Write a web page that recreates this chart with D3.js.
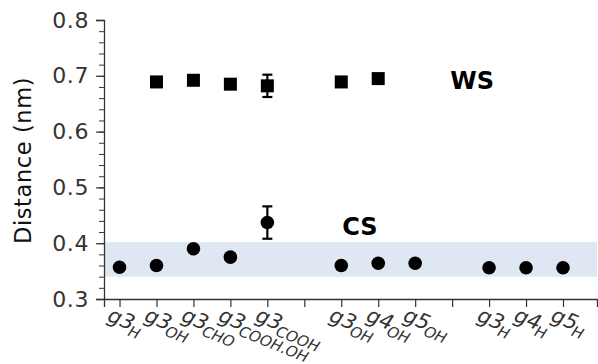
<!DOCTYPE html>
<html>
<head>
<meta charset="utf-8">
<script src="https://cdn.jsdelivr.net/npm/d3@7"></script>
<style>
  body { margin: 0; background: #fff; }
  text { font-family: "DejaVu Sans", Verdana, sans-serif; }
</style>
</head>
<body>
<div class="chart"></div>
<script>
// x tick labels: main part + subscript ("" = empty slot)
var tickMain = ["g3", "g3", "g3", "g3", "g3", "", "g3", "g4", "g5", "", "g3", "g4", "g5"];
var tickSub  = ["H", "OH", "CHO", "COOH.OH", "COOH", "", "OH", "OH", "OH", "", "H", "H", "H"];

// WS (squares)
var wsPos = [1, 2, 3, 4, 6, 7];
var wsVal = [0.689, 0.692, 0.685, 0.682, 0.689, 0.695];
var wsErr = [0, 0, 0.004, 0.02, 0, 0];

// CS (circles)
var csPos = [0, 1, 2, 3, 4, 6, 7, 8, 10, 11, 12];
var csVal = [0.357, 0.360, 0.390, 0.375, 0.437, 0.360, 0.364, 0.364, 0.356, 0.356, 0.356];
var csErr = [0, 0, 0, 0, 0.029, 0, 0, 0, 0, 0, 0];

// shaded band
var band = [0.340, 0.402];

var width = 598, height = 364;
var margin = { top: 20, right: 1, bottom: 65, left: 104 };

var svg = d3.select(".chart").append("svg")
    .attr("width", width)
    .attr("height", height);

var x = d3.scaleLinear()
    .domain([-0.42, 12.92])
    .range([margin.left, width - margin.right]);

var y = d3.scaleLinear()
    .domain([0.3, 0.8])
    .range([height - margin.bottom, margin.top]);

// band
svg.append("rect")
    .attr("x", x(-0.42))
    .attr("width", x(12.92) - x(-0.42))
    .attr("y", y(band[1]))
    .attr("height", y(band[0]) - y(band[1]))
    .attr("fill", "#dfe8f2");

// y axis with minor ticks
var yMinor = d3.range(0.3, 0.8001, 0.02);
svg.append("g")
    .attr("transform", "translate(" + margin.left + ",0)")
    .call(d3.axisLeft(y).tickValues(yMinor).tickSize(5).tickFormat(""))
    .call(function(g) { g.select(".domain").remove(); })
    .selectAll("line").attr("stroke", "#333");

var yAxis = svg.append("g")
    .attr("transform", "translate(" + margin.left + ",0)")
    .call(d3.axisLeft(y).tickValues([0.3, 0.4, 0.5, 0.6, 0.7, 0.8]).tickSize(8).tickPadding(7)
      .tickFormat(d3.format(".1f")));
yAxis.select(".domain").attr("stroke", "#333").attr("stroke-width", 1.3);
yAxis.selectAll("line").attr("stroke", "#333").attr("stroke-width", 1.2);
yAxis.selectAll("text")
    .attr("font-size", 22)
    .attr("letter-spacing", 0.6)
    .attr("fill", "#333")
    .style("font-family", "DejaVu Sans, sans-serif");

svg.append("text")
    .attr("transform", "translate(31," + (y(0.55) + 1) + ") rotate(-90)")
    .attr("text-anchor", "middle")
    .attr("font-size", 22.5)
    .attr("letter-spacing", 0.6)
    .attr("fill", "#111")
    .text("Distance (nm)");

// x axis
var xAxis = svg.append("g")
    .attr("transform", "translate(0," + (height - margin.bottom) + ")")
    .call(d3.axisBottom(x).tickValues(d3.range(0, 13)).tickSize(8).tickFormat(""));
xAxis.select(".domain").attr("stroke", "#333").attr("stroke-width", 1.3);
xAxis.selectAll("line").attr("stroke", "#333").attr("stroke-width", 1.2);

// x tick labels, rotated
var labels = svg.append("g").selectAll("text")
    .data(d3.range(0, 13).filter(function(i) { return tickMain[i] != ""; }))
    .enter().append("text")
    .attr("transform", function(i) {
      return "translate(" + (x(i) - 9) + "," + (height - margin.bottom + 11) + ") rotate(22)";
    })
    .attr("dy", "0.7em")
    .attr("fill", "#333")
    .attr("font-style", "italic");
labels.append("tspan")
    .attr("font-size", 21)
    .text(function(i) { return tickMain[i]; });
labels.append("tspan")
    .attr("font-size", 15)
    .attr("dx", -2)
    .attr("dy", "0.4em")
    .text(function(i) { return tickSub[i]; });

// error bars
function errorBars(pos, val, err) {
  var idx = d3.range(pos.length).filter(function(i) { return err[i] > 0; });
  var g = svg.append("g").attr("stroke", "#000").attr("stroke-width", 2.2);
  g.selectAll(".v").data(idx).enter().append("line")
      .attr("x1", function(i) { return x(pos[i]); })
      .attr("x2", function(i) { return x(pos[i]); })
      .attr("y1", function(i) { return y(val[i] - err[i]); })
      .attr("y2", function(i) { return y(val[i] + err[i]); });
  [-1, 1].forEach(function(s) {
    g.selectAll(".c" + s).data(idx).enter().append("line")
        .attr("x1", function(i) { return x(pos[i]) - 5; })
        .attr("x2", function(i) { return x(pos[i]) + 5; })
        .attr("y1", function(i) { return y(val[i] + s * err[i]); })
        .attr("y2", function(i) { return y(val[i] + s * err[i]); });
  });
}
errorBars(wsPos, wsVal, wsErr);
errorBars(csPos, csVal, csErr);

// squares
svg.append("g").selectAll("rect")
    .data(d3.range(wsPos.length))
    .enter().append("rect")
    .attr("x", function(i) { return x(wsPos[i]) - 6.5; })
    .attr("y", function(i) { return y(wsVal[i]) - 6.5; })
    .attr("width", 13)
    .attr("height", 13)
    .attr("fill", "#000");

// circles
svg.append("g").selectAll("circle")
    .data(d3.range(csPos.length))
    .enter().append("circle")
    .attr("cx", function(i) { return x(csPos[i]); })
    .attr("cy", function(i) { return y(csVal[i]); })
    .attr("r", 6.8)
    .attr("fill", "#000");

// series labels
svg.append("text")
    .attr("x", x(8.95))
    .attr("y", y(0.676))
    .attr("font-size", 24)
    .attr("font-weight", "bold")
    .attr("fill", "#000")
    .text("WS");

svg.append("text")
    .attr("x", x(6.0) + 1)
    .attr("y", y(0.415))
    .attr("font-size", 24)
    .attr("font-weight", "bold")
    .attr("fill", "#000")
    .text("CS");
</script>
</body>
</html>
